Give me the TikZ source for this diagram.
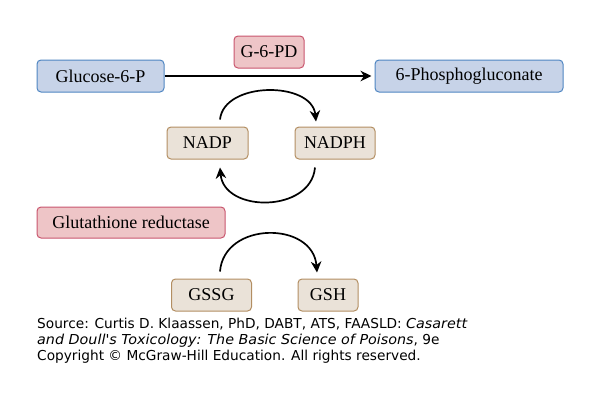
\documentclass[tikz,border=0pt]{standalone}
\usepackage{fontspec}
\setmainfont{Liberation Serif}
\newfontfamily\srcfont{DejaVu Sans}[ItalicFeatures={FakeStretch=1.045}]
\usetikzlibrary{arrows.meta}
\definecolor{bluefill}{HTML}{C7D3E8}
\definecolor{blueline}{HTML}{4F86C2}
\definecolor{redfill}{HTML}{EEC5C7}
\definecolor{redline}{HTML}{C9566E}
\definecolor{tanfill}{HTML}{EAE2D8}
\definecolor{tanline}{HTML}{B38E62}
\tikzset{
  box/.style={rounded corners=4pt, line width=1pt, inner sep=0pt, font=\fontsize{18}{20}\selectfont},
  bluebox/.style={box, draw=blueline, fill=bluefill},
  redbox/.style={box, draw=redline, fill=redfill},
  tanbox/.style={box, draw=tanline, fill=tanfill},
  conn/.style={line width=1.7pt, -{Stealth[length=11pt,width=10.5pt,inset=3.5pt]}},
  src/.style={anchor=base west, inner sep=0pt, font=\srcfont\fontsize{13.7}{16}\selectfont}
}
\begin{document}
\begin{tikzpicture}[x=1pt,y=-1pt]
\useasboundingbox (0,0) rectangle (597,405);
\node[bluebox, minimum width=127pt, minimum height=32pt] (g6p) at (100.5,76) {Glucose-6-P};
\node[bluebox, minimum width=188pt, minimum height=32pt] (pg) at (469,76) {6-Phosphogluconate};
\node[redbox, minimum width=70pt, minimum height=32pt] (g6pd) at (269,52) {G-6-PD};
\node[tanbox, minimum width=81pt, minimum height=32pt] (nadp) at (207.5,143) {NADP};
\node[tanbox, minimum width=80pt, minimum height=32pt] (nadph) at (335,143) {NADPH};
\node[redbox, minimum width=188pt, minimum height=31pt] (gr) at (131,222.5) {Glutathione reductase};
\node[tanbox, minimum width=80pt, minimum height=32pt] (gssg) at (211.5,295) {GSSG};
\node[tanbox, minimum width=60pt, minimum height=32pt] (gsh) at (328,295) {GSH};

\draw[conn, shorten >=3pt] (g6p.east) -- (pg.west);

\coordinate (a1s) at ([xshift=12.5pt,yshift=7pt]nadp.north);
\coordinate (a1e) at ([xshift=-19pt,yshift=5pt]nadph.north);
\draw[conn] (a1s) .. controls (224,81) and (312,81) .. (a1e);

\coordinate (a2s) at ([xshift=-20pt,yshift=-8pt]nadph.south);
\coordinate (a2e) at ([xshift=12.5pt,yshift=-8pt]nadp.south);
\draw[conn] (a2s) .. controls (311,213) and (224,213) .. (a2e);

\coordinate (a3s) at ([xshift=8.5pt,yshift=7pt]gssg.north);
\coordinate (a3e) at ([xshift=-11pt,yshift=6pt]gsh.north);
\draw[conn] (a3s) .. controls (224,221) and (313,221) .. (a3e);

\node[src] (s1) at (37,328) {Source: Curtis D. Klaassen, PhD, DABT, ATS, FAASLD: \textit{Casarett}};
\node[src] (s2) at (37,344) {\textit{and Doull's Toxicology: The Basic Science of Poisons}, 9e};
\node[src] (s3) at (37,360) {Copyright \textcopyright{} McGraw-Hill Education. All rights reserved.};
\end{tikzpicture}
\end{document}
